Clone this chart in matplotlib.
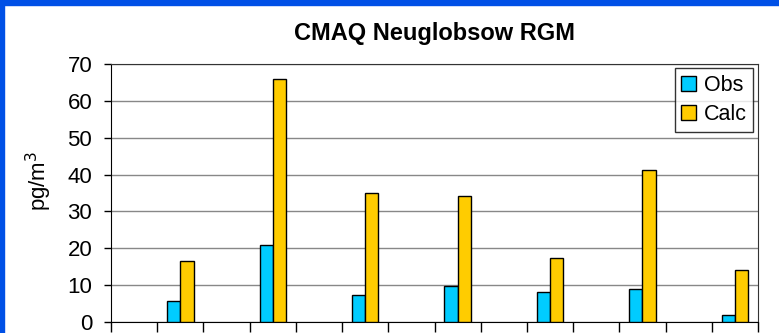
import numpy as np
import matplotlib.pyplot as plt
from matplotlib.patches import Rectangle

plt.rcParams['font.family'] = ['Liberation Sans', 'DejaVu Sans']

# 14 sampling periods, every other one without data
periods = list(range(14))
obs = [np.nan, 5.7, np.nan, 20.9, np.nan, 7.3, np.nan, 9.8, np.nan, 8.1, np.nan, 9.0, np.nan, 1.9]
calc = [np.nan, 16.6, np.nan, 65.9, np.nan, 35.0, np.nan, 34.2, np.nan, 17.5, np.nan, 41.2, np.nan, 14.1]

fig = plt.figure(figsize=(7.79, 3.33), dpi=100)
ax = fig.add_axes([111 / 779, 11 / 333, 647 / 779, 258 / 333])

x = np.arange(len(periods))
w = 1 / 3.5
ax.bar(x - w / 2, obs, w, color='#00CCFF', edgecolor='black', linewidth=1, label='Obs', zorder=3)
ax.bar(x + w / 2, calc, w, color='#FFCC00', edgecolor='black', linewidth=1, label='Calc', zorder=3)

ax.set_xlim(-0.5, len(periods) - 0.5)
ax.set_ylim(0, 70)
ax.set_yticks(range(0, 71, 10))
ax.set_xticks(np.arange(-0.5, len(periods), 1))
ax.set_xticklabels([])
ax.tick_params(axis='x', direction='out', length=7, width=1)
ax.tick_params(axis='y', direction='out', length=5, width=1, labelsize=16, pad=8.5)
ax.yaxis.grid(True, color='#888888', linewidth=1, zorder=0)

for side in ['top', 'right']:
    ax.spines[side].set_color('#333333')
for side in ['left', 'bottom']:
    ax.spines[side].set_color('black')

ax.set_ylabel('pg/m$^3$', fontsize=16)
ax.yaxis.set_label_coords(-0.088, 0.547)
ax.set_title('CMAQ Neuglobsow RGM', fontsize=17, fontweight='bold', pad=17)

leg = ax.legend(loc='upper right', fontsize=15.5, frameon=True, fancybox=False,
                edgecolor='black', handlelength=0.7, handleheight=0.7,
                handletextpad=0.35, borderpad=0.3, labelspacing=0.4,
                bbox_to_anchor=(0.9925, 0.983), borderaxespad=0)
leg.get_frame().set_linewidth(1)

# blue frame along the top and left edge
fig.patches.append(Rectangle((0, 1 - 5 / 333), 1, 5 / 333, transform=fig.transFigure,
                             color='#0050E6', zorder=10))
fig.patches.append(Rectangle((0, 0), 4 / 779, 1, transform=fig.transFigure,
                             color='#0050E6', zorder=10))

fig.savefig('out.png', dpi=100)
